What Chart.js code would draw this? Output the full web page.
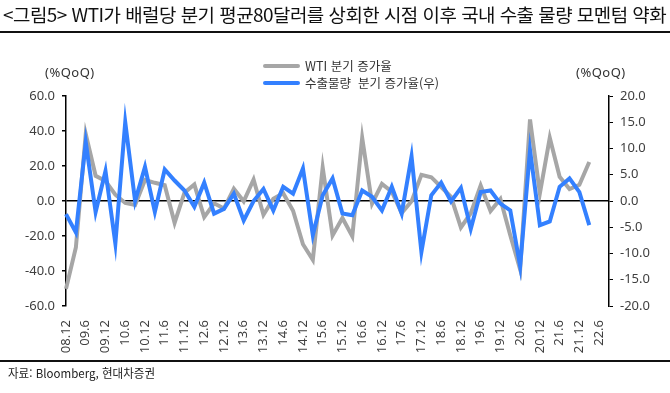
<!DOCTYPE html>
<html lang="ko">

<head>
  <meta charset="UTF-8">
  <title>WTI 분기 증가율과 수출물량</title>
  <script src="https://cdn.jsdelivr.net/npm/chart.js"></script>
  <style>
    html, body {
      margin: 0;
      padding: 0;
      background: #fff;
    }

    #wrap {
      position: relative;
      width: 670px;
      height: 393px;
      overflow: hidden;
      font-family: "Noto Sans CJK KR", "Noto Sans", sans-serif;
    }

    #wtiChart {
      position: absolute;
      left: 0;
      top: 0;
    }

    .title {
      position: absolute;
      left: 3px;
      top: 2px;
      font-size: 18px;
      line-height: 24px;
      color: #111;
      white-space: nowrap;
      transform-origin: 0 0;
      letter-spacing: -0.5px;
    }

    .rule {
      position: absolute;
      left: 0;
      width: 670px;
      height: 2px;
      background: #111;
    }

    .source {
      position: absolute;
      left: 8px;
      top: 365px;
      font-size: 12px;
      line-height: 16px;
      color: #222;
      white-space: nowrap;
      transform-origin: 0 0;
    }

    .unit {
      position: absolute;
      top: 64px;
      font-family: "Noto Sans", sans-serif;
      font-size: 13px;
      line-height: 17px;
      color: #333;
      letter-spacing: 0.5px;
    }

    .legend {
      position: absolute;
      left: 263px;
      top: 57px;
      font-size: 12.5px;
      line-height: 15px;
      color: #333;
    }

    .legend .row {
      display: flex;
      align-items: center;
      height: 17px;
    }

    .legend .swatch {
      width: 37px;
      height: 4px;
      border-radius: 2px;
      margin-right: 5px;
    }
  </style>
</head>

<body>
  <div id="wrap">
    <canvas id="wtiChart" width="670" height="393"></canvas>
    <div class="title" id="title">&lt;그림5&gt; WTI가 배럴당 분기 평균80달러를 상회한 시점 이후 국내 수출 물량 모멘텀 약화</div>
    <div class="rule" style="top:31px"></div>
    <div class="unit" style="left:45px">(%QoQ)</div>
    <div class="unit" style="left:576px">(%QoQ)</div>
    <div class="legend">
      <div class="row"><div class="swatch" style="background:#A6A6A6"></div>WTI 분기 증가율</div>
      <div class="row"><div class="swatch" style="background:#3380FF"></div>수출물량&nbsp; 분기 증가율(우)</div>
    </div>
    <div class="rule" style="top:360px"></div>
    <div class="source" id="source">자료: Bloomberg, 현대차증권</div>
  </div>

  <script>
    // 분기 (08.12 ~ 22.9), 라벨은 2분기마다 표시
    const quarters = [
      "08.12", "09.3", "09.6", "09.9", "09.12", "10.3", "10.6", "10.9", "10.12",
      "11.3", "11.6", "11.9", "11.12", "12.3", "12.6", "12.9", "12.12",
      "13.3", "13.6", "13.9", "13.12", "14.3", "14.6", "14.9", "14.12",
      "15.3", "15.6", "15.9", "15.12", "16.3", "16.6", "16.9", "16.12",
      "17.3", "17.6", "17.9", "17.12", "18.3", "18.6", "18.9", "18.12",
      "19.3", "19.6", "19.9", "19.12", "20.3", "20.6", "20.9", "20.12",
      "21.3", "21.6", "21.9", "21.12", "22.3", "22.6", "22.9"
    ];

    // WTI 분기 증가율 (좌축, %QoQ)
    const wtiQoQ = [
      -50.2, -26.6, 38.3, 14.4, 11.4, 3.6, -1.1, -2.2, 12.0,
      10.4, 9.0, -12.5, 4.8, 9.4, -9.2, -1.3, -4.3,
      7.0, -0.2, 12.3, -7.9, 1.3, 4.4, -5.6, -24.7,
      -33.6, 19.1, -19.7, -9.7, -20.2, 36.1, -1.5, 9.8,
      5.3, -6.9, -0.2, 14.9, 13.6, 8.0, 2.4, -15.1,
      -7.0, 8.9, -5.7, 1.1, -19.6, -39.1, 46.6, 4.4,
      36.1, 13.8, 6.8, 9.3, 22.3
    ];

    // 수출물량 분기 증가율 (우축, %QoQ)
    const exportQoQ = [
      -2.5, -6.0, 11.2, -2.1, 5.7, -8.1, 15.0, 0.0, 6.5,
      -2.1, 6.0, 3.9, 2.0, -1.1, 3.5, -2.4, -1.5,
      1.4, -3.7, 0.0, 2.3, -1.8, 2.7, 1.4, 6.2,
      -6.5, 1.1, 4.3, -2.4, -2.7, 2.0, 0.8, -1.8,
      2.7, -2.4, 8.5, -9.7, 1.1, 3.5, -0.1, 2.5,
      -5.3, 1.7, 2.0, -0.5, -1.8, -12.4, 9.7, -4.6,
      -3.9, 2.7, 4.3, 1.7, -4.6
    ];

    const leftTicks = { min: -60, max: 60, step: 20 };
    const rightTicks = { min: -20, max: 20, step: 5 };

    const tickFont = { family: "'Noto Sans', sans-serif", size: 13 };

    const ctx = document.getElementById('wtiChart').getContext('2d');
    const chart = new Chart(ctx, {
      type: 'line',
      data: {
        labels: quarters,
        datasets: [
          {
            label: 'WTI 분기 증가율',
            data: wtiQoQ,
            yAxisID: 'y',
            borderColor: '#A6A6A6',
            borderWidth: 4,
            pointRadius: 0,
            tension: 0,
            order: 2
          },
          {
            label: '수출물량  분기 증가율(우)',
            data: exportQoQ,
            yAxisID: 'y1',
            borderColor: '#3380FF',
            borderWidth: 4,
            pointRadius: 0,
            tension: 0,
            order: 1
          }
        ]
      },
      options: {
        responsive: false,
        maintainAspectRatio: false,
        animation: false,
        layout: {
          padding: { top: 96, left: 0, right: 0, bottom: 0 }
        },
        plugins: {
          legend: { display: false },
          tooltip: { enabled: false }
        },
        scales: {
          x: {
            offset: false,
            grid: { display: false },
            border: { display: false },
            afterFit: function (scale) { scale.height = 87; },
            ticks: {
              autoSkip: false,
              minRotation: 90,
              maxRotation: 90,
              padding: 6,
              color: '#404040',
              font: tickFont,
              callback: function (val, index) {
                return index % 2 === 0 ? this.getLabelForValue(val) : '';
              }
            }
          },
          y: {
            position: 'left',
            min: leftTicks.min,
            max: leftTicks.max,
            afterFit: function (scale) { scale.width = 66; },
            grid: {
              drawOnChartArea: true,
              color: function (c) { return c.tick && c.tick.value === 0 ? '#000' : 'rgba(0,0,0,0)'; },
              lineWidth: 1.5,
              tickColor: '#000',
              tickLength: 4
            },
            border: { display: true, color: '#000', width: 1.5 },
            ticks: {
              stepSize: leftTicks.step,
              padding: 7,
              color: '#404040',
              font: tickFont,
              callback: function (v) { return v.toFixed(1); }
            }
          },
          y1: {
            position: 'right',
            min: rightTicks.min,
            max: rightTicks.max,
            afterFit: function (scale) { scale.width = 61; },
            grid: {
              drawOnChartArea: false,
              tickColor: '#000',
              tickLength: 4
            },
            border: { display: true, color: '#000', width: 1.5 },
            ticks: {
              stepSize: rightTicks.step,
              padding: 7,
              color: '#404040',
              font: tickFont,
              callback: function (v) { return v.toFixed(1); }
            }
          }
        }
      }
    });

    // 제목/출처 폭 맞추기
    function fitWidth(id, target) {
      const el = document.getElementById(id);
      const w = el.offsetWidth;
      if (w > 0) el.style.transform = 'scaleX(' + (target / w) + ')';
    }
    fitWidth('title', 663);
    fitWidth('source', 147);
  </script>
</body>

</html>
